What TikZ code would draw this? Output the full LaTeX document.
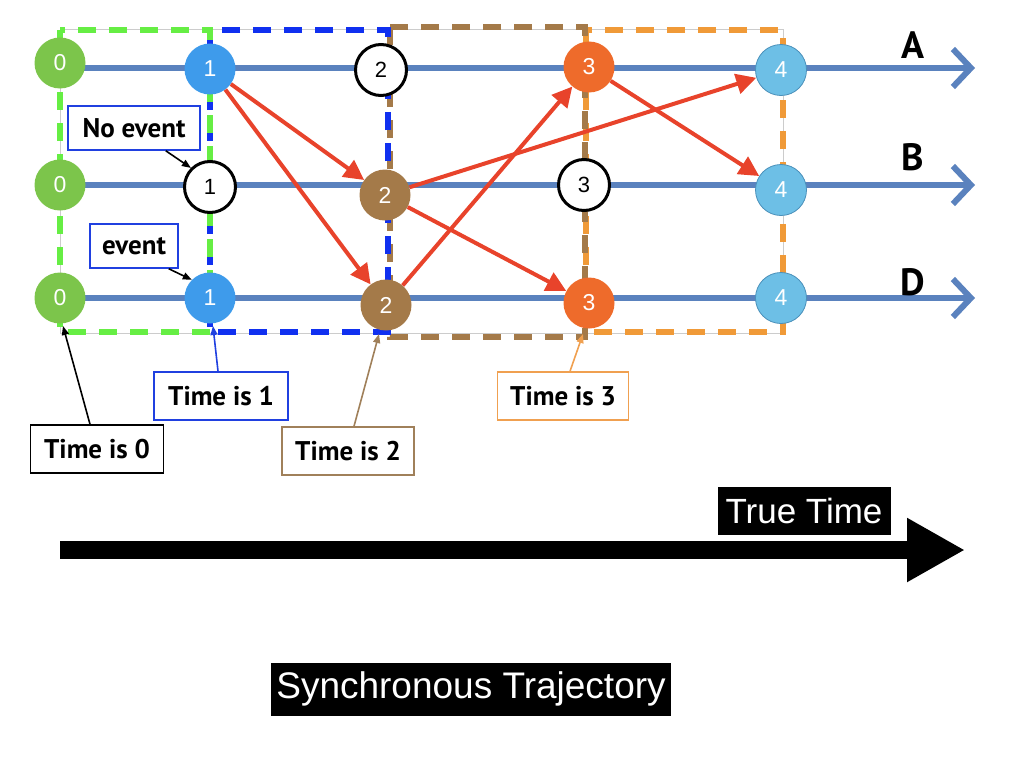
\documentclass[tikz,border=0pt]{standalone}
\usepackage{fontspec}
\setmainfont{Liberation Sans}
\newfontfamily\calfont{PT Sans}
\usetikzlibrary{arrows.meta}
\definecolor{lineblue}{HTML}{5A82BE}
\definecolor{cgreen}{HTML}{7CC54B}
\definecolor{cblue}{HTML}{3E9BEB}
\definecolor{cbrown}{HTML}{A47A49}
\definecolor{corange}{HTML}{EE6B2B}
\definecolor{clblue}{HTML}{6DBFE6}
\definecolor{clbluedk}{HTML}{4A90BA}
\definecolor{redarrow}{HTML}{E8432B}
\definecolor{dgreen}{HTML}{66EE44}
\definecolor{dblue}{HTML}{1030F0}
\definecolor{dbrown}{HTML}{A47A49}
\definecolor{dorange}{HTML}{F09A38}
\definecolor{boxblue}{HTML}{2040E0}
\definecolor{boxbrown}{HTML}{A0805A}
\definecolor{boxorange}{HTML}{F0A050}
\pgfdeclarelayer{bg}
\pgfsetlayers{bg,main}
\tikzset{
  ev/.style={circle,minimum size=51pt,inner sep=0pt,text=white,font=\fontsize{23}{26}\selectfont},
  nz/.style={ev,fill=cgreen},
  n1/.style={ev,fill=cblue},
  nb/.style={ev,fill=cbrown},
  no/.style={ev,fill=corange},
  nl/.style={ev,fill=clblue,draw=clbluedk,line width=0.8pt},
  nw/.style={circle,minimum size=51pt,inner sep=0pt,draw=black,line width=3pt,fill=white,text=black,font=\fontsize{22}{26}\selectfont},
  timeline/.style={draw=lineblue,line width=6pt,-{Straight Barb[length=18pt,width=38pt,line width=6pt]}},
  msg/.style={draw=redarrow,line width=4pt,-{Triangle[length=20pt,width=20pt]}},
  dbox/.style={line width=6pt,dash pattern=on 18pt off 13pt},
  callout/.style={draw,line width=1.5pt,fill=white,inner sep=3pt,text=black,font=\calfont\fontsize{27}{30}\selectfont\bfseries},
  cal/.style={line width=1.6pt,-{Triangle[length=9pt,width=7pt]}},
  lab/.style={font=\calfont\fontsize{38}{42}\selectfont\bfseries},
  banner/.style={fill=black,text=white,inner sep=4pt}
}
\begin{document}
\begin{tikzpicture}[x=1pt,y=-1pt]
\useasboundingbox (0,0) rectangle (1024,768);
% nodes
\node[nz] (A0) at (60,63) {0};
\node[n1] (A1) at (210,69) {1};
\node[nw] (A2) at (381,70) {2};
\node[no] (A3) at (589,67) {3};
\node[nl] (A4) at (781,70) {4};
\node[nz] (B0) at (60,185) {0};
\node[nw] (B1) at (210,187) {1};
\node[nb] (B2) at (385,195) {2};
\node[nw] (B3) at (584,185) {3};
\node[nl] (B4) at (781,190) {4};
\node[nz] (D0) at (60,298) {0};
\node[n1] (D1) at (210,298) {1};
\node[nb] (D2) at (386,305) {2};
\node[no] (D3) at (589,303) {3};
\node[nl] (D4) at (781,298) {4};
\coordinate (Aend) at (975,68);
\coordinate (Bend) at (975,185);
\coordinate (Dend) at (975,298);
\begin{pgfonlayer}{bg}
\draw[timeline] (60,68) -- (Aend);
\draw[timeline] (60,185) -- (Bend);
\draw[timeline] (60,298) -- (Dend);
\draw[gray!40,line width=1pt] (60,30) rectangle (783,333);
\draw[dbox,dorange] (586,30) rectangle (783,332);
\draw[dbox,dbrown] (390,27) rectangle (585,337);
\draw[dbox,dblue] (210,30) rectangle (388,332);
\draw[dbox,dgreen] (60,30) rectangle (210,332);
\end{pgfonlayer}
% labels
\node[lab] (LA) at (913,45) {A};
\node[lab] (LB) at (913,157) {B};
\node[lab] (LD) at (913,282) {D};
% messages
\draw[msg] (A1) -- (B2);
\draw[msg] (A1) -- (D2);
\draw[msg] (B2) -- (A4);
\draw[msg] (B2) -- (D3);
\draw[msg] (D2) -- (A3);
\draw[msg] (A3) -- (B4);
% callouts
\node[callout,draw=boxblue,minimum width=132pt,minimum height=44pt] (NE) at (134,128) {No event};
\node[callout,draw=boxblue,minimum width=88pt,minimum height=44pt] (EV) at (134,246) {event};
\node[callout,draw=black,minimum width=133pt,minimum height=48pt] (T0) at (97,449) {Time is 0};
\node[callout,draw=boxblue,minimum width=134pt,minimum height=48pt] (T1) at (221,396) {Time is 1};
\node[callout,draw=boxbrown,minimum width=132pt,minimum height=48pt] (T2) at (348,451) {Time is 2};
\node[callout,draw=boxorange,minimum width=131pt,minimum height=48pt] (T3) at (563,396) {Time is 3};
\coordinate (p0) at (63,326);
\coordinate (p1) at (213,326);
\coordinate (p2) at (379,334);
\coordinate (p3) at (583,334);
\draw[cal,black] (NE.south east) ++(-35pt,0) -- (B1.north west);
\draw[cal,black] (EV.south east) ++(-10pt,0) -- (D1.north west);
\draw[cal,black] (T0.north) ++(-7pt,0) -- (p0);
\draw[cal,boxblue] (T1.north) ++(-3pt,0) -- (p1);
\draw[cal,boxbrown] (T2.north) ++(6pt,0) -- (p2);
\draw[cal,boxorange] (T3.north) ++(7pt,0) -- (p3);
% true time
\coordinate (tts) at (60,550);
\coordinate (tte) at (965,550);
\draw[line width=18pt,-{Triangle[length=58pt,width=60pt]}] (tts) -- (tte);
\node[banner,font=\fontsize{35}{38}\selectfont,minimum width=173pt,minimum height=48pt] (TT) at (804,511) {True Time};
\node[banner,font=\fontsize{37}{40}\selectfont,minimum width=400pt,minimum height=53pt] (ST) at (471,689) {Synchronous Trajectory};
\end{tikzpicture}
\end{document}
